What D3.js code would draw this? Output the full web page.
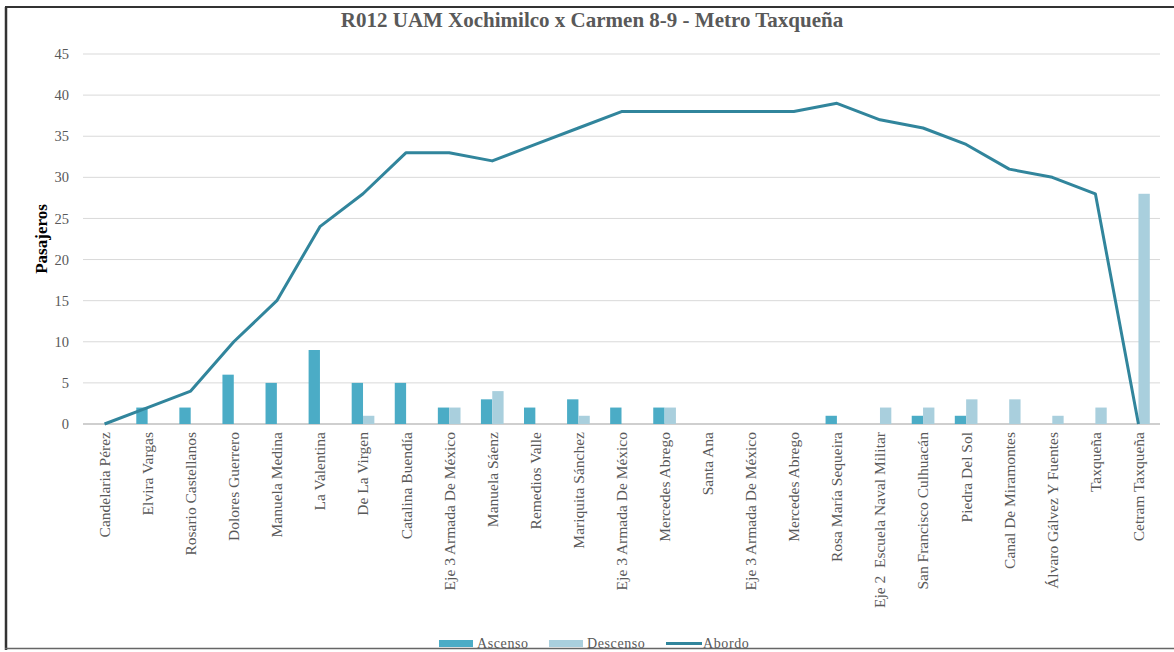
<!DOCTYPE html>
<html>
<head>
<meta charset="utf-8">
<script src="https://cdn.jsdelivr.net/npm/d3@7"></script>
<style>
  body { margin: 0; background: #fff; }
  svg { display: block; font-family: "Liberation Serif", "Times New Roman", serif; }
</style>
</head>
<body>
<svg id="chart" width="1174" height="652"></svg>
<script>
const stops = [
	"Candelaria Pérez", "Elvira Vargas", "Rosario Castellanos", "Dolores Guerrero",
	"Manuela Medina", "La Valentina", "De La Virgen", "Catalina Buendía",
	"Eje 3 Armada De México", "Manuela Sáenz", "Remedios Valle", "Mariquita Sánchez",
	"Eje 3 Armada De México", "Mercedes Abrego", "Santa Ana", "Eje 3 Armada De México",
	"Mercedes Abrego", "Rosa María Sequeira", "Eje 2  Escuela Naval Militar",
	"San Francisco Culhuacán", "Piedra Del Sol", "Canal De Miramontes",
	"Álvaro Gálvez Y Fuentes", "Taxqueña", "Cetram Taxqueña"
];
const ascenso = [0, 2, 2, 6, 5, 9, 5, 5, 2, 3, 2, 3, 2, 2, 0, 0, 0, 1, 0, 1, 1, 0, 0, 0, 0];
const descenso = [0, 0, 0, 0, 0, 0, 1, 0, 2, 4, 0, 1, 0, 2, 0, 0, 0, 0, 2, 2, 3, 3, 1, 2, 28];
const abordo = [0, 2, 4, 10, 15, 24, 28, 33, 33, 32, 34, 36, 38, 38, 38, 38, 38, 39, 37, 36, 34, 31, 30, 28, 0];
const yTicks = [0, 5, 10, 15, 20, 25, 30, 35, 40, 45];

const colors = { asc: "#4bacc6", desc: "#a9cfdd", line: "#31859c" };
const width = 1174, height = 652;
const plot = { left: 83, right: 1160, top: 54, bottom: 424 };

const svg = d3.select("#chart");

// frame
svg.append("line").attr("x1", 6).attr("x2", 6).attr("y1", 7).attr("y2", 650)
	.attr("stroke", "#333").attr("stroke-width", 2.5);
svg.append("line").attr("x1", 5).attr("x2", width).attr("y1", 7).attr("y2", 7)
	.attr("stroke", "#333").attr("stroke-width", 2);
svg.append("line").attr("x1", 5).attr("x2", width).attr("y1", 648.5).attr("y2", 648.5)
	.attr("stroke", "#666").attr("stroke-width", 1.5);

const x = d3.scaleBand()
	.domain(d3.range(stops.length))
	.range([plot.left, plot.right]);

const xInner = d3.scaleBand()
	.domain(["asc", "desc"])
	.range([0, x.bandwidth()])
	.paddingInner(0)
	.paddingOuter(0.9);

const y = d3.scaleLinear()
	.domain([0, 45])
	.range([plot.bottom, plot.top]);

// grid
svg.append("g")
	.selectAll("line")
	.data(yTicks)
	.join("line")
	.attr("x1", plot.left).attr("x2", plot.right)
	.attr("y1", d => y(d)).attr("y2", d => y(d))
	.attr("stroke", d => d === 0 ? "#bfbfbf" : "#d9d9d9")
	.attr("stroke-width", d => d === 0 ? 1.5 : 1);

const yAxis = svg.append("g")
	.attr("transform", `translate(${plot.left},0)`)
	.call(d3.axisLeft(y).tickValues(yTicks).tickSize(0).tickPadding(14));
yAxis.select(".domain").remove();
yAxis.selectAll("text").attr("fill", "#595959").style("font-size", "14.5px")
	.style("font-family", "Liberation Serif, serif");

svg.append("text")
	.attr("transform", `translate(47,${y(22.5)}) rotate(-90)`)
	.attr("text-anchor", "middle")
	.style("font-size", "17px").style("font-weight", "bold")
	.attr("fill", "#000")
	.text("Pasajeros");

// bars
const groups = svg.append("g")
	.selectAll("g")
	.data(stops.map((s, i) => i))
	.join("g")
	.attr("transform", i => `translate(${x(i)},0)`);

groups.append("rect")
	.attr("x", xInner("asc")).attr("width", xInner.bandwidth())
	.attr("y", i => y(ascenso[i])).attr("height", i => y(0) - y(ascenso[i]))
	.attr("fill", colors.asc);

groups.append("rect")
	.attr("x", xInner("desc")).attr("width", xInner.bandwidth())
	.attr("y", i => y(descenso[i])).attr("height", i => y(0) - y(descenso[i]))
	.attr("fill", colors.desc);

// line
const line = d3.line()
	.x((d, i) => x(i) + x.bandwidth() / 2)
	.y(d => y(d));

svg.append("path")
	.datum(abordo)
	.attr("d", line)
	.attr("fill", "none")
	.attr("stroke", colors.line)
	.attr("stroke-width", 3)
	.attr("stroke-linejoin", "round");

// x labels
const xAxis = svg.append("g")
	.attr("transform", `translate(0,${y(0)})`)
	.call(d3.axisBottom(x).tickSize(0).tickFormat(i => stops[i]));
xAxis.select(".domain").remove();
xAxis.selectAll("text")
	.attr("transform", "rotate(-90)")
	.attr("text-anchor", "end")
	.attr("x", -8).attr("y", 0).attr("dy", "0.35em")
	.attr("fill", "#595959")
	.style("font-size", "15.5px")
	.style("font-family", "Liberation Serif, serif")
	.style("white-space", "pre");

// title
svg.append("text")
	.attr("x", 592).attr("y", 27)
	.attr("text-anchor", "middle")
	.attr("fill", "#595959")
	.style("font-size", "21px").style("font-weight", "bold")
	.text("R012 UAM Xochimilco x Carmen 8-9 - Metro Taxqueña");

// legend
const legendItems = [
	{ label: "Ascenso", type: "rect", color: colors.asc, x: 439 },
	{ label: "Descenso", type: "rect", color: colors.desc, x: 549 },
	{ label: "Abordo", type: "line", color: colors.line, x: 666 }
];
const legend = svg.append("g").attr("transform", "translate(0,643)");
legendItems.forEach(d => {
	if (d.type === "rect") {
		legend.append("rect").attr("x", d.x).attr("y", -3).attr("width", 34).attr("height", 7)
			.attr("fill", d.color);
	} else {
		legend.append("line").attr("x1", d.x).attr("x2", d.x + 36).attr("y1", 0.5).attr("y2", 0.5)
			.attr("stroke", d.color).attr("stroke-width", 3);
	}
	legend.append("text").attr("x", d.x + (d.type === "rect" ? 38 : 37)).attr("y", 5)
		.attr("fill", "#595959").style("font-size", "14px").style("letter-spacing", "0.6px")
		.text(d.label);
});
</script>
</body>
</html>
